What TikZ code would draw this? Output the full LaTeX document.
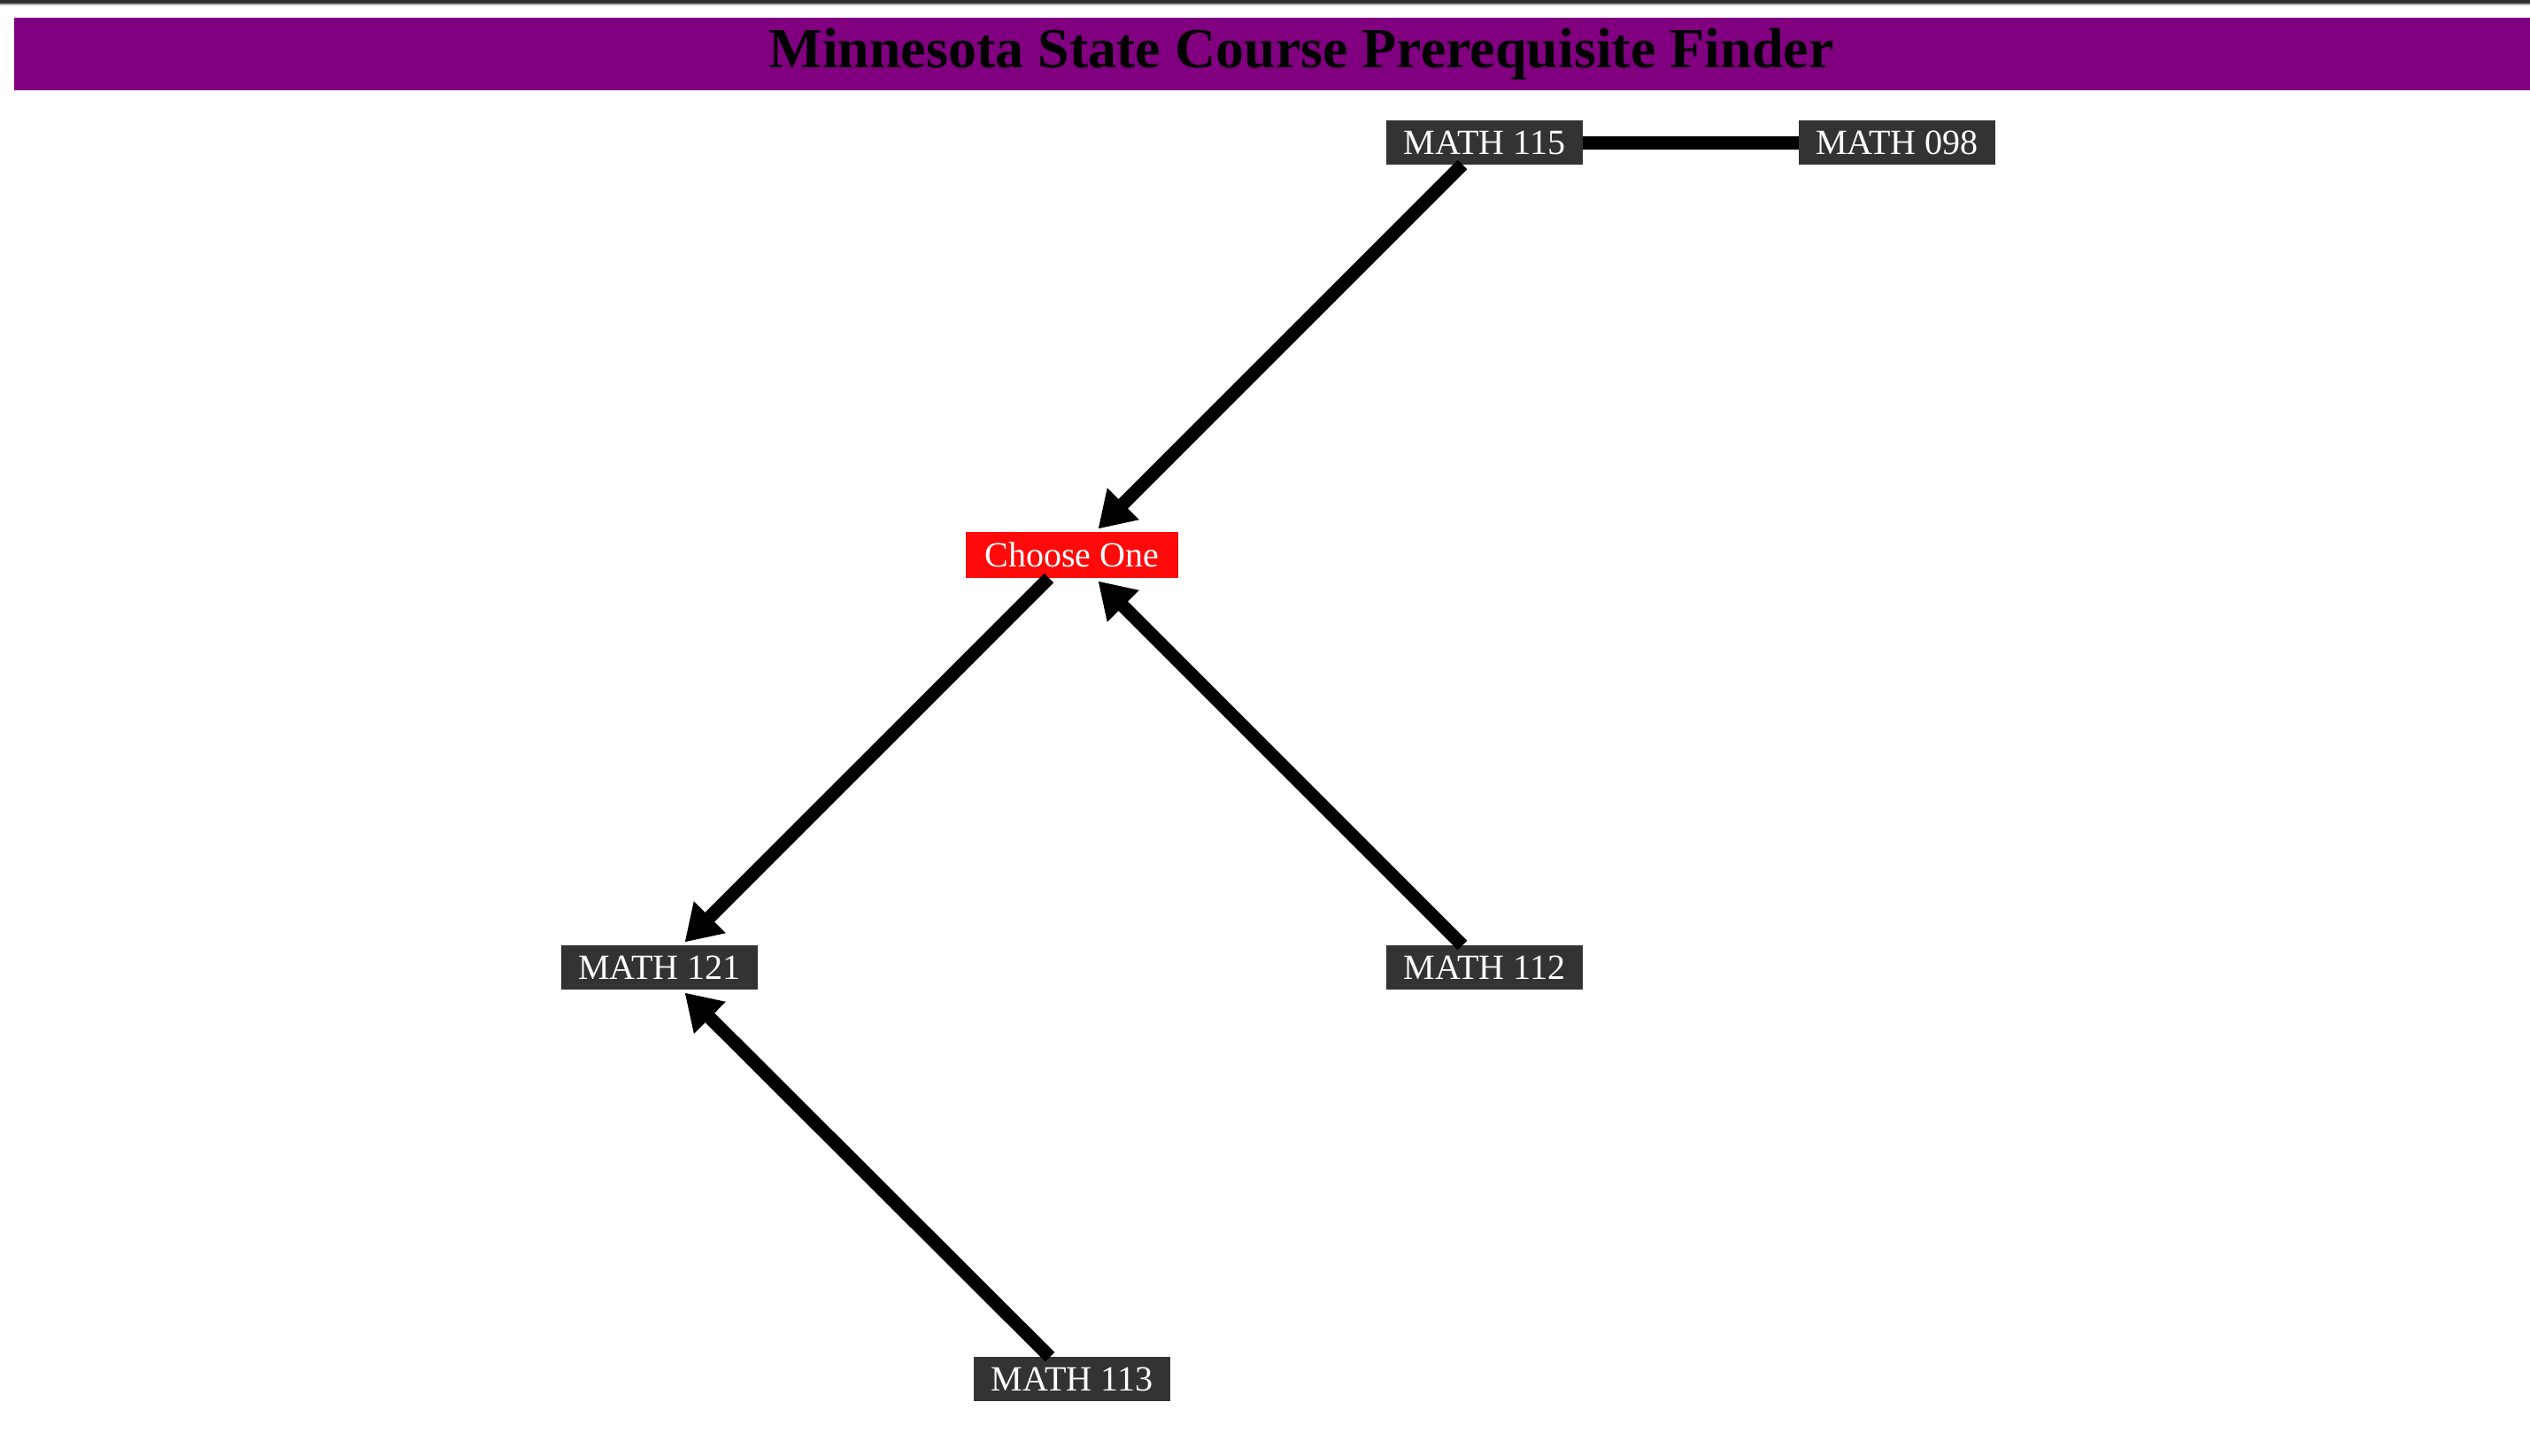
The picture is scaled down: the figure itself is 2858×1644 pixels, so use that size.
\documentclass[tikz,border=0pt]{standalone}
\usepackage{fontspec}
\setmainfont{Liberation Serif}
\usetikzlibrary{arrows.meta}
\definecolor{boxgray}{HTML}{333333}
\definecolor{titlepurple}{HTML}{800080}
\definecolor{choosered}{HTML}{FF0A0A}
\definecolor{tabdark}{HTML}{2E2E2E}

\begin{document}
\begin{tikzpicture}[x=0.01cm,y=-0.01cm,->,>={Triangle[length=0.40cm,width=0.48cm]},shorten >=0.05cm,
  line width=0.15cm,
  main node/.style={rectangle,fill=boxgray,text=white,inner sep=0pt,outer sep=0pt,minimum width=2.22cm,minimum height=0.50cm,font=\fontsize{11.4pt}{13pt}\selectfont},
  choose node/.style={main node,fill=choosered,minimum width=2.39cm,minimum height=0.52cm}]
  \useasboundingbox (0,0) rectangle (2858,1644);

  % header
  \fill[tabdark] (0,0) rectangle (2858,4);
  \fill[gray!60] (0,4) rectangle (2858,6);
  \fill[titlepurple] (16,20) rectangle (2858,102);
  \node[anchor=base,inner sep=0pt,font=\fontsize{18.2pt}{22pt}\selectfont\bfseries] (title) at (1470,76) {Minnesota State Course Prerequisite Finder};

  \node[main node] (m115) at (1677,161) {MATH 115};
  \node[main node] (m098) at (2143,161) {MATH 098};
  \node[choose node] (choose) at (1211,627) {Choose One};
  \node[main node] (m121) at (745,1093) {MATH 121};
  \node[main node] (m112) at (1677,1093) {MATH 112};
  \node[main node] (m113) at (1211,1558) {MATH 113};

  \path
    (m115) edge[-,shorten >=0pt] (m098)
    (m115) edge (choose)
    (m112) edge (choose)
    (choose) edge (m121)
    (m113) edge (m121);
\end{tikzpicture}
\end{document}
